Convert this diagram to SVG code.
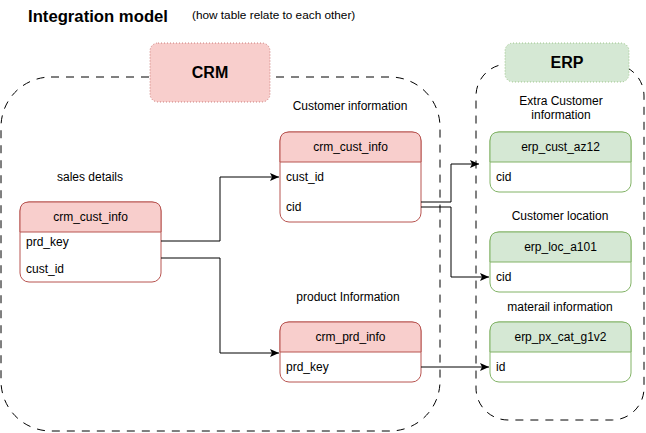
<svg xmlns="http://www.w3.org/2000/svg" width="646" height="433" viewBox="0 0 646 433">
<style>
text{font-family:"Liberation Sans",Arial,sans-serif;font-size:12px;fill:#000}
.t{text-anchor:middle}
.b{font-weight:bold}
.cont{fill:none;stroke:#000;stroke-width:1;stroke-dasharray:8 7}
.red{stroke:#b85450;stroke-width:1}
.grn{stroke:#82b366;stroke-width:1}
.hr{fill:#f8cecc}
.hg{fill:#d5e8d4}
.body{fill:#fff}
.con{fill:none;stroke:#000;stroke-width:1}
</style>
<defs>
<marker id="arr" markerUnits="userSpaceOnUse" markerWidth="10" markerHeight="10" refX="9" refY="4" orient="auto">
<path d="M0,0 L9,4 L0,8 L2,4 z" fill="#000"/>
</marker>
</defs>
<rect width="646" height="433" fill="#fff"/>
<g id="title">
<text x="28" y="22" class="b" style="font-size:16.7px">Integration model</text>
<text x="192" y="19" style="font-size:11.8px">(how table relate to each other)</text>
</g>
<g id="crm-container">
<rect x="1" y="77" width="439" height="354" rx="50" class="cont"/>
</g>
<g id="erp-container">
<rect x="476" y="64" width="168" height="356" rx="32" class="cont"/>
</g>
<g id="crm-label">
<rect x="150" y="43" width="120" height="59" rx="8" fill="#f8cecc" stroke="#b85450" stroke-dasharray="1 2" stroke-opacity="0.7"/>
<text x="210" y="78" class="t b" style="font-size:16px">CRM</text>
</g>
<g id="erp-label">
<rect x="505" y="43" width="124" height="39" rx="8" fill="#d5e8d4" stroke="#82b366" stroke-dasharray="1 2" stroke-opacity="0.7"/>
<text x="567" y="68" class="t b" style="font-size:16px">ERP</text>
</g>
<g id="labels">
<text x="350" y="110" class="t">Customer information</text>
<text x="90" y="181" class="t">sales details</text>
<text x="348" y="301" class="t">product Information</text>
<text x="561" y="105" class="t">Extra Customer</text>
<text x="561" y="119" class="t">information</text>
<text x="560" y="220" class="t">Customer location</text>
<text x="560" y="311" class="t">materail information</text>
</g>
<g id="sales-crm-cust-info">
<rect x="20" y="202" width="141" height="80" rx="9" class="body red"/>
<path d="M20,232 V211 Q20,202 29,202 H152 Q161,202 161,211 V232 Z" class="hr red"/>
<text x="90.5" y="221" class="t">crm_cust_info</text>
<text x="26" y="246">prd_key</text>
<text x="26" y="273">cust_id</text>
</g>
<g id="crm-cust-info">
<rect x="280" y="132" width="141" height="90" rx="9" class="body red"/>
<path d="M280,162 V141 Q280,132 289,132 H412 Q421,132 421,141 V162 Z" class="hr red"/>
<text x="350.5" y="151" class="t">crm_cust_info</text>
<text x="286" y="181">cust_id</text>
<text x="286" y="211">cid</text>
</g>
<g id="crm-prd-info">
<rect x="280" y="322" width="141" height="60" rx="9" class="body red"/>
<path d="M280,352 V331 Q280,322 289,322 H412 Q421,322 421,331 V352 Z" class="hr red"/>
<text x="350.5" y="341" class="t">crm_prd_info</text>
<text x="286" y="371">prd_key</text>
</g>
<g id="erp-cust-az12">
<rect x="490" y="132" width="141" height="60" rx="9" class="body grn"/>
<path d="M490,162 V141 Q490,132 499,132 H622 Q631,132 631,141 V162 Z" class="hg grn"/>
<text x="560.5" y="151" class="t">erp_cust_az12</text>
<text x="496" y="181">cid</text>
</g>
<g id="erp-loc-a101">
<rect x="490" y="232" width="141" height="60" rx="9" class="body grn"/>
<path d="M490,262 V241 Q490,232 499,232 H622 Q631,232 631,241 V262 Z" class="hg grn"/>
<text x="560.5" y="251" class="t">erp_loc_a101</text>
<text x="496" y="281">cid</text>
</g>
<g id="erp-px-cat-g1v2">
<rect x="490" y="322" width="141" height="60" rx="9" class="body grn"/>
<path d="M490,352 V331 Q490,322 499,322 H622 Q631,322 631,331 V352 Z" class="hg grn"/>
<text x="560.5" y="341" class="t">erp_px_cat_g1v2</text>
<text x="496" y="371">id</text>
</g>
<g id="connectors">
<path d="M161,241 H220 V177 H279" class="con" marker-end="url(#arr)"/>
<path d="M161,258 H220 V353 H279" class="con" marker-end="url(#arr)"/>
<path d="M421,202 H451 V164 H479" class="con" marker-end="url(#arr)"/>
<path d="M421,207 H451 V277 H489" class="con" marker-end="url(#arr)"/>
<path d="M421,367 H489" class="con" marker-end="url(#arr)"/>
</g>
</svg>
